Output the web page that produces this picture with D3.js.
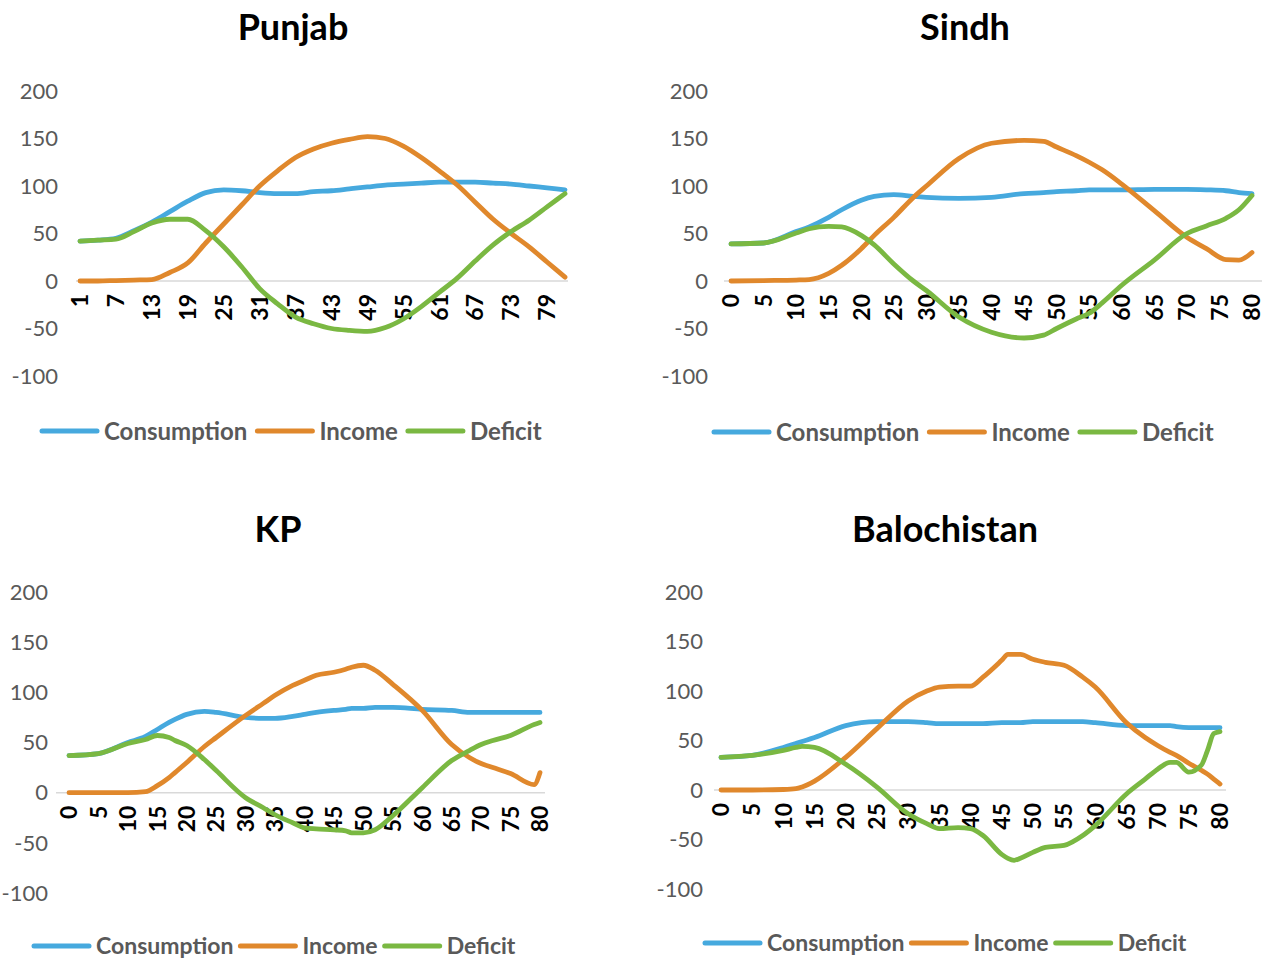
<html>
<head>
<script src="https://d3js.org/d3.v7.min.js"></script>
<style>
  body { margin: 0; background: #fff; }
  svg { display: block; font-family: Lato, "Open Sans", sans-serif; }
</style>
</head>
<body>
<svg id="chart" width="1266" height="959"></svg>
<script>
// ---- data ----
const seriesNames = ["Consumption", "Income", "Deficit"];
const yTicks = [-100, -50, 0, 50, 100, 150, 200];

// Punjab (ages 1..82)
const punjabAge         = [1, 4, 7, 10, 13, 16, 19, 22, 25, 28, 31, 34, 37, 40, 43, 46, 49, 52, 55, 58, 61, 64, 67, 70, 73, 76, 79, 82];
const punjabConsumption = [42, 43, 45, 53, 62, 73, 84, 93, 96, 95, 93, 92, 92, 94, 95, 97, 99, 101, 102, 103, 104, 104, 104, 103, 102, 100, 98, 96];
const punjabIncome      = [0, 0, 0.5, 1, 1.5, 9, 19, 40, 60, 80, 100, 116, 130, 139, 145, 149, 152, 150, 142, 130, 116, 101, 83, 65, 50, 36, 20, 4];
const punjabDeficit     = [42, 43, 44, 52, 61, 65, 65, 53, 36, 15, -8, -24, -38, -45, -50, -52, -53, -49, -40, -27, -12, 3, 21, 38, 52, 64, 78, 92];
const punjabTicks       = [1, 7, 13, 19, 25, 31, 37, 43, 49, 55, 61, 67, 73, 79];

// Sindh (ages 0..80)
const sindhAge         = [0, 5, 10, 12, 15, 17, 20, 22, 25, 28, 30, 35, 40, 45, 48, 50, 53, 55, 57, 60, 65, 70, 73, 76, 78, 80];
const sindhConsumption = [39, 40, 52, 57, 67, 75, 85, 89, 91, 89, 88, 87, 88, 92, 93, 94, 95, 96, 96, 96, 96.5, 96.5, 96, 95, 93, 92];
const sindhIncome      = [0, 0.5, 1, 1.5, 8, 16.5, 34, 48, 67, 88, 100, 129, 145, 148, 147, 141, 132, 125, 117, 102, 74, 46, 34, 22.5, 22, 30];
const sindhDeficit     = [39, 40, 50.5, 55, 57.5, 57, 48, 38, 18, 0, -10, -38, -54, -60, -57, -50, -40, -34, -23, -4.5, 22, 50, 58, 66, 75, 90];
const sindhTicks       = [0, 5, 10, 15, 20, 25, 30, 35, 40, 45, 50, 55, 60, 65, 70, 75, 80];

// KP (ages 0..80)
const kpAge         = [0, 5, 10, 13, 15, 17, 18, 20, 23, 25, 30, 33, 35, 38, 40, 42, 45, 47, 48, 50, 52, 55, 60, 65, 68, 70, 72, 75, 79, 80];
const kpConsumption = [37, 39, 50, 56, 63, 70, 73, 78, 81, 80, 75, 74, 74, 76, 78, 80, 82, 83, 84, 84, 85, 85, 83, 82, 80, 80, 80, 80, 80, 80];
const kpIncome      = [0, 0, 0, 1, 7, 15, 20, 30, 46, 55, 77, 89, 97, 107, 112, 117, 120, 123, 125, 127, 122, 108, 82, 48, 35, 29, 25, 19, 8, 20];
const kpDeficit     = [37, 39, 49, 53, 57, 55, 52, 47, 33, 22, -5, -15, -22, -30, -35, -36, -37, -38, -40, -40, -37, -23, 5, 32, 42, 48, 52, 57, 68, 70];
const kpTicks       = [0, 5, 10, 15, 20, 25, 30, 35, 40, 45, 50, 55, 60, 65, 70, 75, 80];

// Balochistan (ages 0..80)
const balAge         = [0, 5, 10, 12, 13, 15, 20, 25, 30, 33, 35, 38, 40, 42, 45, 46, 47, 48, 50, 52, 55, 58, 60, 65, 68, 70, 72, 73, 75, 77, 78, 79, 80];
const balConsumption = [33, 35, 43, 47, 49, 53, 65, 69, 69, 68, 67, 67, 67, 67, 68, 68, 68, 68, 69, 69, 69, 69, 68, 65, 65, 65, 65, 64, 63, 63, 63, 63, 63];
const balIncome      = [0, 0, 0.5, 1.3, 3, 9, 33, 62, 90, 100, 104, 105, 105, 114, 131, 137, 137, 137, 132, 129, 126, 114, 104, 68, 53, 45, 38, 35, 27, 20, 16, 11, 6];
const balDeficit     = [33, 35, 40, 43, 44, 43, 26, 3, -24, -34, -39, -38, -39, -46, -65, -69, -71, -69, -63, -58, -56, -46, -36, -4, 11, 21, 28, 28, 18, 25, 40, 57, 59];
const balTicks       = [0, 5, 10, 15, 20, 25, 30, 35, 40, 45, 50, 55, 60, 65, 70, 75, 80];

// ---- layout of each panel (pixel positions only) ----
const panels = [
  { title: "Punjab", age: punjabAge, vals: [punjabConsumption, punjabIncome, punjabDeficit], ticks: punjabTicks,
    ageDomain: [1, 82], xRange: [80, 565], yRange: [376, 91], titleX: 293, titleY: 40,
    yLabelX: 58, grid: [76, 568], legendX: 40, legendY: 431, legendSize: 24, legendGap: 8 },
  { title: "Sindh", age: sindhAge, vals: [sindhConsumption, sindhIncome, sindhDeficit], ticks: sindhTicks,
    ageDomain: [0, 80], xRange: [731, 1252], yRange: [376, 91], titleX: 965, titleY: 40,
    yLabelX: 708, grid: [724, 1262], legendX: 712, legendY: 432, legendSize: 24, legendGap: 8 },
  { title: "KP", age: kpAge, vals: [kpConsumption, kpIncome, kpDeficit], ticks: kpTicks,
    ageDomain: [0, 80], xRange: [69, 540], yRange: [893, 592], titleX: 278, titleY: 542,
    yLabelX: 48, grid: [56, 545], legendX: 32, legendY: 946, legendSize: 23, legendGap: 5 },
  { title: "Balochistan", age: balAge, vals: [balConsumption, balIncome, balDeficit], ticks: balTicks,
    ageDomain: [0, 80], xRange: [721, 1220], yRange: [889, 592], titleX: 945, titleY: 542,
    yLabelX: 703, grid: [714, 1226], legendX: 703, legendY: 943, legendSize: 23, legendGap: 5 }
];

const colors = ["#46A9DE", "#E0882C", "#7AB842"];
const svg = d3.select("#chart");

panels.forEach(p => {
  const g = svg.append("g");
  const x = d3.scaleLinear().domain(p.ageDomain).range(p.xRange);
  const y = d3.scaleLinear().domain([-100, 200]).range(p.yRange);

  // title
  g.append("text")
    .attr("x", p.titleX).attr("y", p.titleY)
    .attr("text-anchor", "middle")
    .style("font-size", "36px").style("font-weight", "bold")
    .attr("fill", "#000")
    .text(p.title);

  // y labels
  g.selectAll(".ylab").data(yTicks).join("text")
    .attr("x", p.yLabelX).attr("y", d => y(d))
    .attr("dy", "0.35em")
    .attr("text-anchor", "end")
    .style("font-size", "22px")
    .attr("fill", "#595959")
    .text(d => d);

  // zero gridline
  g.append("line")
    .attr("x1", p.grid[0]).attr("x2", p.grid[1])
    .attr("y1", y(0)).attr("y2", y(0))
    .attr("stroke", "#D9D9D9").attr("stroke-width", 1.5);

  // x labels, rotated, hanging below the zero line
  g.selectAll(".xlab").data(p.ticks).join("text")
    .attr("transform", d => `translate(${x(d)},${y(0) + 13}) rotate(-90)`)
    .attr("dy", "0.36em")
    .attr("text-anchor", "end")
    .style("font-size", "23px").style("font-weight", "bold")
    .attr("fill", "#000")
    .text(d => d);

  // lines
  const line = d3.line()
    .x(d => x(d[0])).y(d => y(d[1]))
    .curve(d3.curveMonotoneX);
  p.vals.forEach((vals, i) => {
    g.append("path")
      .datum(p.age.map((a, j) => [a, vals[j]]))
      .attr("d", line)
      .attr("fill", "none")
      .attr("stroke", colors[i])
      .attr("stroke-width", 4.8)
      .attr("stroke-linejoin", "round")
      .attr("stroke-linecap", "round");
  });

  // legend
  let lx = p.legendX;
  seriesNames.forEach((name, i) => {
    g.append("line")
      .attr("x1", lx + 2).attr("x2", lx + 57)
      .attr("y1", p.legendY).attr("y2", p.legendY)
      .attr("stroke", colors[i]).attr("stroke-width", 5)
      .attr("stroke-linecap", "round");
    const t = g.append("text")
      .attr("x", lx + 64).attr("y", p.legendY)
      .attr("dy", "0.36em")
      .style("font-size", p.legendSize + "px").style("font-weight", "bold")
      .attr("fill", "#595959")
      .text(name);
    lx += 64 + t.node().getComputedTextLength() + p.legendGap;
  });
});
</script>
</body>
</html>
